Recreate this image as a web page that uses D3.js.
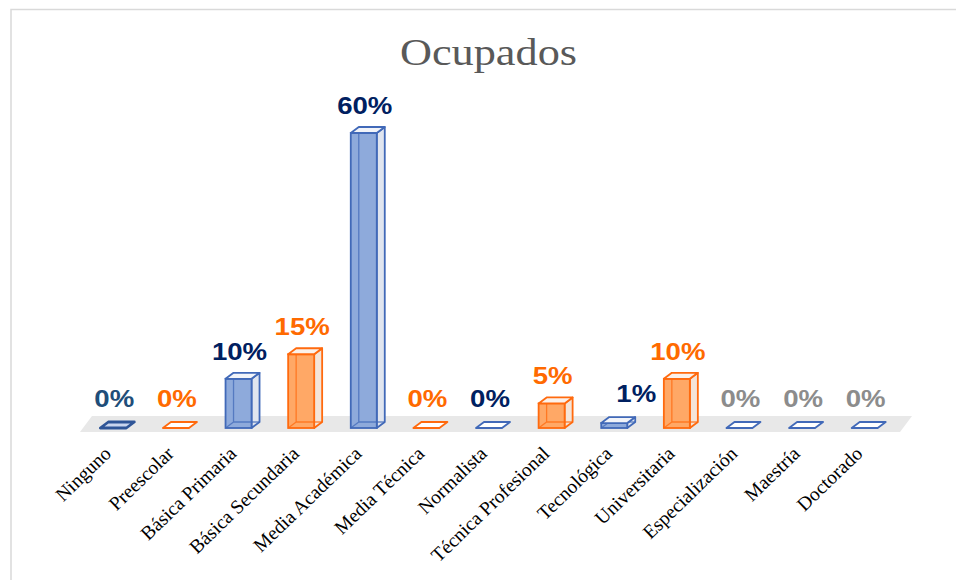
<!DOCTYPE html>
<html>
<head>
<meta charset="utf-8">
<script src="https://cdn.jsdelivr.net/npm/d3@7/dist/d3.min.js"></script>
<style>
  html, body { margin: 0; padding: 0; background: #ffffff; }
  svg { display: block; }
</style>
</head>
<body>
<svg id="chart" width="956" height="580"></svg>
<script>
// Nivel educativo de la población ocupada (porcentaje)
const categories = [
  "Ninguno", "Preescolar", "Básica Primaria", "Básica Secundaria",
  "Media Académica", "Media Técnica", "Normalista", "Técnica Profesional",
  "Tecnológica", "Universitaria", "Especialización", "Maestría", "Doctorado"
];
const values = [0, 0, 10, 15, 60, 0, 0, 5, 1, 10, 0, 0, 0];
// paleta de cada barra: "b" azul, "o" naranja
const barTone = ["b", "o", "b", "o", "b", "o", "b", "o", "b", "o", "b", "b", "b"];
const labelColors = [
  "#1f4e79", "#ff6a00", "#002060", "#ff6a00", "#002060", "#ff6a00", "#002060",
  "#ff6a00", "#002060", "#ff6a00", "#8c8c8c", "#8c8c8c", "#8c8c8c"
];
const title = "Ocupados";

const palette = {
  b: { stroke: "#4169b8", front: "#8eaadb", side: "#e0e5ef", top: "#f2f4f9" },
  o: { stroke: "#ff6a0e", front: "#ffa866", side: "#f4e4d8", top: "#fbf1ea" }
};

const svg = d3.select("#chart");

// marco del gráfico
svg.append("rect")
  .attr("x", 11).attr("y", 9.5)
  .attr("width", 980).attr("height", 620)
  .attr("fill", "#ffffff")
  .attr("stroke", "#d9d9d9").attr("stroke-width", 1.5);

// título
svg.append("text")
  .attr("x", 488.5).attr("y", 65)
  .attr("text-anchor", "middle")
  .attr("font-family", "'Liberation Serif', 'Times New Roman', serif")
  .attr("font-size", 37)
  .attr("fill", "#595959")
  .attr("textLength", 177)
  .attr("lengthAdjust", "spacingAndGlyphs")
  .text(title);

const x = d3.scaleBand().domain(categories).range([86, 900]).padding(0);
const y = d3.scaleLinear().domain([0, 60]).range([428, 133]);

const depthX = 8, depthY = 6, barW = 26;
const y0 = y(0);

// piso gris
const fx0 = x.range()[0], fx1 = x.range()[1];
svg.append("polygon")
  .attr("points", [
    [fx0 + 6, y0 - 12], [fx1 + 12, y0 - 12], [fx1, y0 + 4], [fx0 - 6, y0 + 4]
  ].map(p => p.join(",")).join(" "))
  .attr("fill", "#e8e8e8");

const data = categories.map((c, i) => ({ c, v: values[i], tone: barTone[i], lc: labelColors[i] }));

const bars = svg.append("g").selectAll("g.bar").data(data).join("g").attr("class", "bar");

bars.each(function(d) {
  const g = d3.select(this);
  const p = palette[d.tone];
  const cx = x(d.c) + x.bandwidth() / 2;
  const xl = cx - (barW + depthX) / 2;  // borde izquierdo de la cara frontal
  const xr = xl + barW;
  const yt = y(d.v);
  const pts = a => a.map(q => q.join(",")).join(" ");
  const sw = 1.8;

  if (d.v > 0) {
    // cara lateral derecha
    g.append("polygon")
      .attr("points", pts([[xr, yt], [xr + depthX, yt - depthY], [xr + depthX, y0 - depthY], [xr, y0]]))
      .attr("fill", p.side).attr("stroke", p.stroke).attr("stroke-width", sw)
      .attr("stroke-linejoin", "round");
    // cara frontal
    g.append("rect")
      .attr("x", xl).attr("y", yt).attr("width", barW).attr("height", y0 - yt)
      .attr("fill", p.front);
    // aristas posteriores vistas por transparencia
    g.append("path")
      .attr("d", `M${xl + depthX},${yt - depthY}V${y0 - depthY}H${xr + depthX}M${xl},${y0}L${xl + depthX},${y0 - depthY}`)
      .attr("fill", "none").attr("stroke", p.stroke).attr("stroke-width", 1.3)
      .attr("stroke-opacity", 0.75);
    g.append("rect")
      .attr("x", xl).attr("y", yt).attr("width", barW).attr("height", y0 - yt)
      .attr("fill", "none").attr("stroke", p.stroke).attr("stroke-width", sw);
    // cara superior
    g.append("polygon")
      .attr("points", pts([[xl, yt], [xl + depthX, yt - depthY], [xr + depthX, yt - depthY], [xr, yt]]))
      .attr("fill", p.top).attr("stroke", p.stroke).attr("stroke-width", sw)
      .attr("stroke-linejoin", "round");
  } else {
    // valor cero: solo la base plana
    const strong = d.c === "Ninguno";
    g.append("polygon")
      .attr("points", pts([[xl, y0], [xl + depthX, y0 - depthY], [xr + depthX, y0 - depthY], [xr, y0]]))
      .attr("fill", strong ? "#c9d5ee" : "#ffffff")
      .attr("stroke", strong ? "#2f5597" : p.stroke)
      .attr("stroke-width", strong ? 2.8 : sw)
      .attr("stroke-linejoin", "round");
  }

  // etiqueta de valor (la de Tecnológica queda desplazada a la derecha)
  const shift = d.c === "Tecnológica" ? 22 : 1;
  const lift = d.v < 3 ? 21 : 19;
  g.append("g")
    .attr("transform", `translate(${xl + barW / 2 + shift},${yt - lift}) scale(1.15,1)`)
    .append("text")
    .attr("text-anchor", "middle")
    .attr("font-family", "'Liberation Sans', Arial, sans-serif")
    .attr("font-weight", "bold")
    .attr("font-size", 24)
    .attr("fill", d.lc)
    .text(Math.round(d.v) + "%");
});

// etiquetas de categoría
svg.append("g").selectAll("text").data(categories).join("text")
  .attr("transform", c => `translate(${x(c) + x.bandwidth() / 2 - 5},455) rotate(-44)`)
  .attr("text-anchor", "end")
  .attr("font-family", "'Liberation Serif', 'Times New Roman', serif")
  .attr("font-size", 19.5)
  .attr("fill", "#000000")
  .text(c => c);
</script>
</body>
</html>
